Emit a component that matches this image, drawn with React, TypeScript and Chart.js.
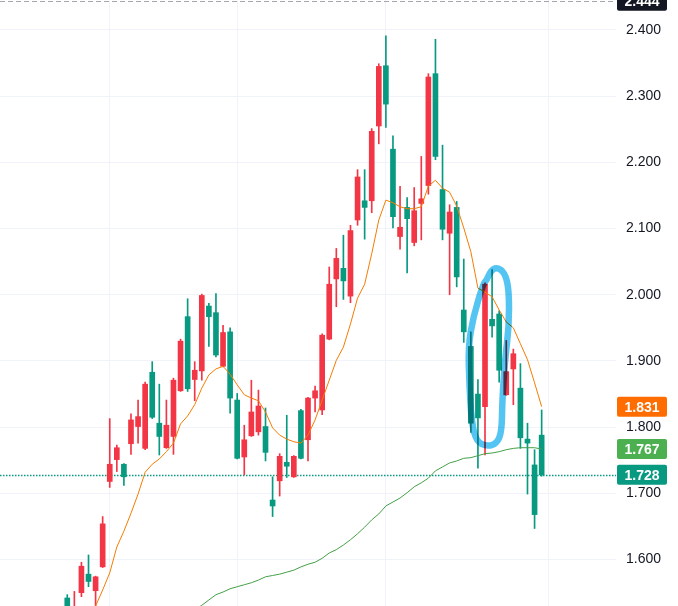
import React, { useEffect, useRef } from "react";
import { Chart, registerables } from "chart.js";

Chart.register(...registerables);

// ---- data ----
const opens = [
  1.542, 1.510, 1.550, 1.578, 1.553, 1.589, 1.718, 1.751, 1.744, 1.775,
  1.801, 1.768, 1.883, 1.806, 1.769, 1.786, 1.855, 1.967, 1.872, 1.885,
  1.983, 1.973, 1.892, 1.944, 1.841, 1.755, 1.787, 1.793, 1.801, 1.690,
  1.719, 1.747, 1.725, 1.825, 1.781, 1.844, 1.826, 1.933, 2.024, 2.040,
  1.998, 2.113, 2.142, 2.142, 2.255, 2.346, 2.220, 2.088, 2.132, 2.079,
  2.138, 2.165, 2.334, 2.159, 2.093, 2.132, 1.977, 1.922, 1.850, 1.831,
  1.963, 1.971, 1.849, 1.888, 1.859, 1.782, 1.743, 1.788,
];
const highs = [
  1.547, 1.552, 1.596, 1.607, 1.575, 1.665, 1.813, 1.773, 1.745, 1.820,
  1.841, 1.868, 1.899, 1.865, 1.841, 1.874, 1.933, 1.994, 1.899, 2.001,
  1.987, 2.002, 1.954, 1.950, 1.851, 1.803, 1.871, 1.856, 1.829, 1.725,
  1.760, 1.818, 1.757, 1.827, 1.845, 1.862, 1.941, 2.042, 2.070, 2.090,
  2.105, 2.189, 2.189, 2.251, 2.349, 2.391, 2.240, 2.164, 2.147, 2.162,
  2.209, 2.334, 2.386, 2.226, 2.136, 2.141, 2.054, 1.944, 1.872, 2.018,
  2.038, 1.976, 1.931, 1.918, 1.896, 1.806, 1.766, 1.826,
];
const lows = [
  1.515, 1.505, 1.544, 1.559, 1.525, 1.588, 1.709, 1.733, 1.712, 1.759,
  1.776, 1.766, 1.813, 1.758, 1.768, 1.759, 1.854, 1.854, 1.840, 1.871,
  1.922, 1.906, 1.891, 1.821, 1.752, 1.728, 1.786, 1.788, 1.749, 1.665,
  1.696, 1.724, 1.724, 1.752, 1.749, 1.823, 1.819, 1.932, 1.982, 1.993,
  1.988, 2.105, 2.084, 2.124, 2.228, 2.253, 2.101, 2.069, 2.033, 2.074,
  2.083, 2.152, 2.204, 2.083, 2.000, 2.012, 1.928, 1.792, 1.738, 1.758,
  1.936, 1.868, 1.848, 1.834, 1.768, 1.699, 1.647, 1.726,
];
const closes = [
  1.525, 1.528, 1.590, 1.567, 1.574, 1.654, 1.744, 1.769, 1.725, 1.811,
  1.816, 1.865, 1.815, 1.786, 1.803, 1.871, 1.930, 1.858, 1.886, 1.999,
  1.967, 1.909, 1.943, 1.844, 1.753, 1.781, 1.823, 1.832, 1.762, 1.681,
  1.756, 1.741, 1.756, 1.753, 1.844, 1.855, 1.939, 2.016, 2.055, 2.021,
  2.097, 2.178, 2.132, 2.247, 2.345, 2.288, 2.118, 2.102, 2.115, 2.127,
  2.145, 2.329, 2.209, 2.099, 2.125, 2.027, 1.944, 1.806, 1.814, 2.016,
  1.953, 1.886, 1.884, 1.911, 1.784, 1.776, 1.668, 1.728,
];
// fast moving average (orange)
const maFast = [
  null, null, null, 1.505, 1.530, 1.554, 1.580, 1.619, 1.643, 1.670,
  1.699, 1.732, 1.744, 1.752, 1.763, 1.776, 1.805, 1.817, 1.834, 1.859,
  1.879, 1.888, 1.892, 1.880, 1.864, 1.849, 1.844, 1.840, 1.823, 1.799,
  1.788, 1.782, 1.778, 1.776, 1.788, 1.811, 1.841, 1.871, 1.901, 1.921,
  1.956, 1.995, 2.016, 2.062, 2.113, 2.143, 2.139, 2.133, 2.130, 2.130,
  2.133, 2.164, 2.173, 2.161, 2.155, 2.134, 2.101, 2.065, 2.010, 2.004,
  1.997, 1.977, 1.959, 1.950, 1.926, 1.902, 1.867, 1.831,
];
// slow moving average (green)
const maSlow = [
  null, null, null, null, null, null, null, null, null, null,
  null, null, null, null, null, null, null, null, 1.524, 1.531,
  1.539, 1.547, 1.551, 1.556, 1.559, 1.562, 1.565, 1.569, 1.574, 1.576,
  1.578, 1.581, 1.584, 1.589, 1.593, 1.596, 1.602, 1.610, 1.615, 1.622,
  1.630, 1.639, 1.649, 1.660, 1.669, 1.681, 1.687, 1.693, 1.701, 1.710,
  1.716, 1.723, 1.734, 1.740, 1.746, 1.749, 1.753, 1.754, 1.757, 1.760,
  1.761, 1.763, 1.766, 1.768, 1.769, 1.769, 1.769, 1.767,
];
const priceTicks = [1.6, 1.7, 1.8, 1.9, 2.0, 2.1, 2.2, 2.3, 2.4];
const timeGridAt = [6, 24, 45, 68];
const topMarker = 2.444;
// hand-drawn highlight loop, in (bar index, price) coordinates
const highlightPath: [number, number][] = [
  [58.76, 2.017], [57.34, 1.967], [56.64, 1.922], [56.78, 1.866], [57.12, 1.806],
  [57.82, 1.778], [59.24, 1.771], [60.65, 1.775], [61.36, 1.793], [61.44, 1.841],
  [61.82, 1.902], [62.39, 1.952], [62.39, 2.007], [61.82, 2.033], [60.65, 2.042],
  [59.8, 2.036], [59.24, 2.022],
];

// ---- styles ----
const UP = "#f23645";
const DOWN = "#089981";
const ORANGE_LINE = "#f57c00";
const ORANGE_TAG = "#ff6d00";
const GREEN_LINE = "#43a047";
const GREEN_TAG = "#4caf50";
const GRID = "#f0f3fa";
const TEXT = "#131722";
const FONT = "'Liberation Sans', Arial, sans-serif";

const idx = opens.map((_, i) => i);
const candleColors = idx.map((i) => (closes[i] >= opens[i] ? UP : DOWN));

const overlayPlugin = {
  id: "overlay",
  beforeDatasetsDraw(chart: any) {
    const { ctx, chartArea, scales } = chart;
    const y = scales.y;
    ctx.save();
    // last price dotted line
    const last = closes.length - 1;
    const ly = Math.round(y.getPixelForValue(closes[last])) + 0.5;
    ctx.strokeStyle = candleColors[last];
    ctx.lineWidth = 1.5;
    ctx.setLineDash([1.5, 1.5]);
    ctx.beginPath();
    ctx.moveTo(chartArea.left, ly);
    ctx.lineTo(chartArea.right, ly);
    ctx.stroke();
    // top dashed line
    const ty = Math.round(y.getPixelForValue(topMarker)) + 0.5;
    ctx.strokeStyle = "#a3a6af";
    ctx.lineWidth = 1;
    ctx.setLineDash([5, 3]);
    ctx.beginPath();
    ctx.moveTo(chartArea.left, ty);
    ctx.lineTo(chartArea.right, ty);
    ctx.stroke();
    ctx.restore();
  },
  afterDatasetsDraw(chart: any) {
    const { ctx, scales } = chart;
    const x = scales.x;
    const y = scales.y;
    const pts = highlightPath.map(([k, v]) => [x.getPixelForValue(k), y.getPixelForValue(v)]);
    ctx.save();
    ctx.globalCompositeOperation = "multiply";
    ctx.strokeStyle = "rgb(84,196,242)";
    ctx.lineWidth = 6.5;
    ctx.lineCap = "round";
    ctx.lineJoin = "round";
    ctx.beginPath();
    const n = pts.length;
    const mid = (a: number[], b: number[]) => [(a[0] + b[0]) / 2, (a[1] + b[1]) / 2];
    const m0 = mid(pts[n - 1], pts[0]);
    ctx.moveTo(m0[0], m0[1]);
    for (let i = 0; i < n; i++) {
      const p = pts[i];
      const m = mid(p, pts[(i + 1) % n]);
      ctx.quadraticCurveTo(p[0], p[1], m[0], m[1]);
    }
    ctx.closePath();
    ctx.stroke();
    ctx.restore();
  },
  afterDraw(chart: any) {
    const { ctx, chartArea, scales } = chart;
    const y = scales.y;
    const last = closes.length - 1;
    const tags: [number, string][] = [
      [topMarker, TEXT],
      [maFast[last] as number, ORANGE_TAG],
      [maSlow[last] as number, GREEN_TAG],
      [closes[last], candleColors[last]],
    ];
    ctx.save();
    const left = chartArea.right + 1;
    const w = 50;
    const h = 20;
    for (const [v, color] of tags) {
      const cy = y.getPixelForValue(v);
      ctx.fillStyle = color;
      ctx.beginPath();
      (ctx as any).roundRect(left, cy - h / 2, w, h, 2);
      ctx.fill();
      ctx.fillStyle = "#ffffff";
      ctx.font = `bold 14px ${FONT}`;
      ctx.textAlign = "center";
      ctx.textBaseline = "middle";
      ctx.fillText(v.toFixed(3), left + w / 2, cy + 1);
    }
    ctx.restore();
  },
};

export default function App() {
  const ref = useRef<HTMLCanvasElement>(null);
  useEffect(() => {
    if (!ref.current) return;
    const chart = new Chart(ref.current, {
      type: "bar",
      data: {
        datasets: [
          {
            type: "line",
            label: "MA fast",
            data: idx.map((i) => ({ x: i, y: maFast[i] })),
            borderColor: ORANGE_LINE,
            borderWidth: 1,
            pointRadius: 0,
            tension: 0,
            spanGaps: false,
            order: 0,
          } as any,
          {
            type: "line",
            label: "MA slow",
            data: idx.map((i) => ({ x: i, y: maSlow[i] })),
            borderColor: GREEN_LINE,
            borderWidth: 1,
            pointRadius: 0,
            tension: 0,
            spanGaps: false,
            order: 0,
          } as any,
          {
            type: "bar",
            label: "body",
            data: idx.map((i) => ({ x: i, y: [opens[i], closes[i]] })),
            backgroundColor: candleColors,
            borderWidth: 0,
            barThickness: 5,
            minBarLength: 1,
            grouped: false,
            order: 1,
          } as any,
          {
            type: "bar",
            label: "wick",
            data: idx.map((i) => ({ x: i, y: [lows[i], highs[i]] })),
            backgroundColor: candleColors,
            borderWidth: 0,
            barThickness: 1,
            grouped: false,
            order: 2,
          } as any,
        ],
      },
      options: {
        animation: false,
        responsive: false,
        maintainAspectRatio: false,
        layout: { padding: 0, autoPadding: false } as any,
        plugins: {
          legend: { display: false },
          tooltip: { enabled: false },
          title: { display: false },
        },
        scales: {
          x: {
            type: "linear",
            min: -9.5,
            max: 77.5,
            offset: false,
            afterBuildTicks: (s: any) => {
              s.ticks = timeGridAt.map((v) => ({ value: v }));
            },
            ticks: { display: false },
            grid: { color: GRID, drawTicks: false, offset: false },
            border: { display: false },
          },
          y: {
            type: "linear",
            position: "right",
            min: 1.5299,
            max: 2.4453,
            afterBuildTicks: (s: any) => {
              s.ticks = priceTicks.map((v) => ({ value: v }));
            },
            afterFit: (s: any) => {
              s.width = 62;
              s.paddingTop = 0;
              s.paddingBottom = 0;
            },
            ticks: {
              color: TEXT,
              padding: 10,
              font: { family: FONT, size: 14 },
              callback: (v: any) => Number(v).toFixed(3),
            },
            grid: { color: GRID, drawTicks: false, offset: false },
            border: { display: false },
          },
        },
      } as any,
      plugins: [overlayPlugin],
    });
    return () => chart.destroy();
  }, []);
  return (
    <div
      style={{
        position: "fixed",
        left: 0,
        top: 0,
        width: 678,
        height: 606,
        background: "#ffffff",
        overflow: "hidden",
      }}
    >
      <canvas ref={ref} width={678} height={606} style={{ display: "block", width: 678, height: 606 }} />
    </div>
  );
}
